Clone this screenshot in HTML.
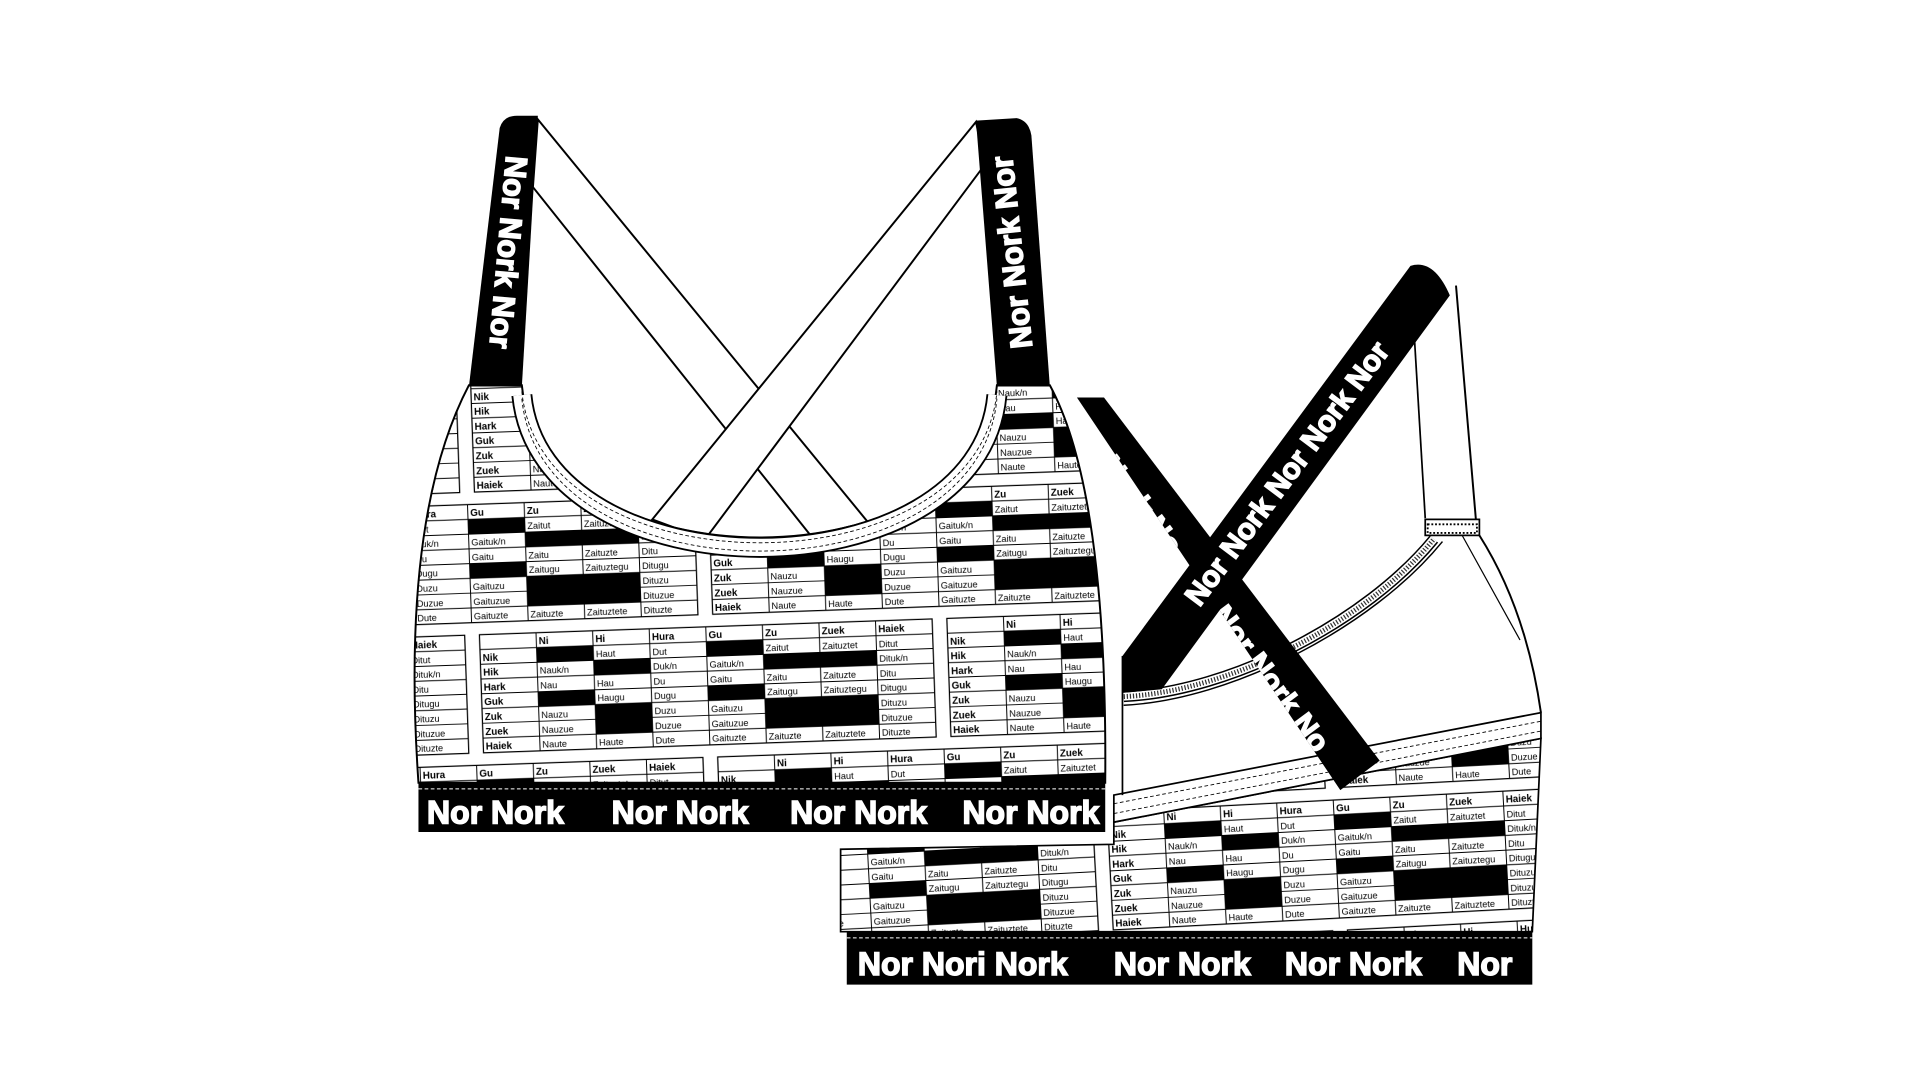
<!DOCTYPE html>
<html><head><meta charset="utf-8"><style>html,body{margin:0;padding:0;background:#fff}svg{display:block}</style></head>
<body>
<svg width="1920" height="1080" viewBox="0 0 1560 877.5" xmlns="http://www.w3.org/2000/svg" font-family="Liberation Sans, sans-serif">
<defs>
<g id="tbl">
<rect x="0" y="0" width="368" height="96" fill="#fff" stroke="#000" stroke-width="1"/>
<g fill="#000">
<rect x="46" y="12" width="46" height="12"/><rect x="184" y="12" width="46" height="12"/>
<rect x="92" y="24" width="46" height="12"/><rect x="230" y="24" width="92" height="12"/>
<rect x="46" y="48" width="46" height="12"/><rect x="184" y="48" width="46" height="12"/>
<rect x="92" y="60" width="46" height="24"/><rect x="230" y="60" width="92" height="24"/>
</g>
<g stroke="#000" stroke-width="0.8">
<path d="M0 12H368M0 24H368M0 36H368M0 48H368M0 60H368M0 72H368M0 84H368M46 0V96M92 0V96M138 0V96M184 0V96M230 0V96M276 0V96M322 0V96"/>
</g>
<g font-size="8" font-weight="bold">
<text x="48" y="9.5">Ni</text><text x="94" y="9.5">Hi</text><text x="140" y="9.5">Hura</text><text x="186" y="9.5">Gu</text><text x="232" y="9.5">Zu</text><text x="278" y="9.5">Zuek</text><text x="324" y="9.5">Haiek</text>
<text x="2" y="21.5">Nik</text><text x="2" y="33.5">Hik</text><text x="2" y="45.5">Hark</text><text x="2" y="57.5">Guk</text><text x="2" y="69.5">Zuk</text><text x="2" y="81.5">Zuek</text><text x="2" y="93.5">Haiek</text>
</g>
<g font-size="7.5">
<text x="94" y="21.5">Haut</text><text x="140" y="21.5">Dut</text><text x="232" y="21.5">Zaitut</text><text x="278" y="21.5">Zaituztet</text><text x="324" y="21.5">Ditut</text>
<text x="48" y="33.5">Nauk/n</text><text x="140" y="33.5">Duk/n</text><text x="186" y="33.5">Gaituk/n</text><text x="324" y="33.5">Dituk/n</text>
<text x="48" y="45.5">Nau</text><text x="94" y="45.5">Hau</text><text x="140" y="45.5">Du</text><text x="186" y="45.5">Gaitu</text><text x="232" y="45.5">Zaitu</text><text x="278" y="45.5">Zaituzte</text><text x="324" y="45.5">Ditu</text>
<text x="94" y="57.5">Haugu</text><text x="140" y="57.5">Dugu</text><text x="232" y="57.5">Zaitugu</text><text x="278" y="57.5">Zaituztegu</text><text x="324" y="57.5">Ditugu</text>
<text x="48" y="69.5">Nauzu</text><text x="140" y="69.5">Duzu</text><text x="186" y="69.5">Gaituzu</text><text x="324" y="69.5">Dituzu</text>
<text x="48" y="81.5">Nauzue</text><text x="140" y="81.5">Duzue</text><text x="186" y="81.5">Gaituzue</text><text x="324" y="81.5">Dituzue</text>
<text x="48" y="93.5">Naute</text><text x="94" y="93.5">Haute</text><text x="140" y="93.5">Dute</text><text x="186" y="93.5">Gaituzte</text><text x="232" y="93.5">Zaituzte</text><text x="278" y="93.5">Zaituztete</text><text x="324" y="93.5">Dituzte</text>
</g>
</g>
<pattern id="pat" patternUnits="userSpaceOnUse" width="380" height="212" patternTransform="translate(378,300) rotate(-2)">
<use href="#tbl" x="4" y="4"/>
<use href="#tbl" x="-186" y="110"/>
<use href="#tbl" x="194" y="110"/>
</pattern>
<pattern id="pat2" patternUnits="userSpaceOnUse" width="380" height="212" patternTransform="translate(700,560) rotate(-3)">
<use href="#tbl" x="4" y="4"/>
<use href="#tbl" x="-186" y="110"/>
<use href="#tbl" x="194" y="110"/>
</pattern>
<clipPath id="s1c"><polygon points="1146,216 1178,240 944,560 912,563 912,533"/></clipPath>
<clipPath id="s2c"><polygon points="875,323 897,323 1121,618 1089,642"/></clipPath>
</defs>

<!-- FRONT cross straps -->
<polygon points="437,97 705,424 661,438 433,152" fill="#fff" stroke="#000" stroke-width="1.6"/>
<polygon points="793,99 800,134 573,438 530,422" fill="#fff" stroke="#000" stroke-width="1.6"/>

<!-- FRONT body -->
<path d="M381,313 L424,313 C440,478 795,478 810,313 L853,313 Q900,400 898,636 L340,636 Q325,420 381,313 Z" fill="url(#pat)" stroke="#000" stroke-width="1.6"/>
<!-- neckline binding -->
<path d="M424,321 C440,486 795,486 810,321" fill="none" stroke="#000" stroke-width="17"/>
<path d="M424,321 C440,486 795,486 810,321" fill="none" stroke="#fff" stroke-width="14"/>
<path d="M424,318 C440,482 795,482 810,318" fill="none" stroke="#000" stroke-width="0.7" stroke-dasharray="3,2"/>
<path d="M424,324 C440,489 795,489 810,324" fill="none" stroke="#000" stroke-width="0.7" stroke-dasharray="3,2"/>

<!-- front black straps -->
<path d="M381,314 L406,104 Q409,94 420,94 L437,94 L424,314 Z" fill="#000"/>
<path d="M810,314 L793,98 L826,96 Q836,98 838,110 L853,314 Z" fill="#000"/>
<g fill="#fff" stroke="#fff" stroke-width="1.2" font-size="25" font-weight="bold">
<text x="413" y="205" transform="rotate(95 413 205)" text-anchor="middle" dominant-baseline="central">Nor Nork Nor</text>
<text x="822" y="205" transform="rotate(-96 822 205)" text-anchor="middle" dominant-baseline="central">Nor Nork Nor</text>
</g>

<!-- front band -->
<rect x="340" y="636" width="558" height="40" fill="#000"/>
<line x1="340" y1="641" x2="898" y2="641" stroke="#fff" stroke-width="0.8" stroke-dasharray="3,2"/>
<g fill="#fff" stroke="#fff" stroke-width="1.2" font-size="26" font-weight="bold">
<text x="347" y="669">Nor Nork</text><text x="497" y="669">Nor Nork</text><text x="642" y="669">Nor Nork</text><text x="782" y="669">Nor Nork</text>
</g>

<!-- BACK lower patterned region -->
<polygon points="683,690 905,686 905,668 1252,600 1245,757 683,757" fill="url(#pat2)" stroke="#000" stroke-width="1.4"/>
<polygon points="905,646 1252,579 1252,600 905,668" fill="#fff" stroke="#000" stroke-width="1.4"/>
<line x1="905" y1="653" x2="1252" y2="586" stroke="#000" stroke-width="0.7" stroke-dasharray="3,2"/>
<line x1="905" y1="661" x2="1252" y2="594" stroke="#000" stroke-width="0.7" stroke-dasharray="3,2"/>

<!-- back cup lines -->
<path d="M912,533 L912,646" stroke="#000" stroke-width="1.4" fill="none"/>
<path d="M913,566 C1000,562 1110,505 1165,438" fill="none" stroke="#000" stroke-width="9"/>
<path d="M913,566 C1000,562 1110,505 1165,438" fill="none" stroke="#fff" stroke-width="6.5"/>
<path d="M913,566 C1000,562 1110,505 1165,438" fill="none" stroke="#000" stroke-width="4" stroke-dasharray="1,1.5" opacity="0.8"/>
<path d="M913,573 C1000,569 1115,510 1172,440" fill="none" stroke="#000" stroke-width="1.2"/>
<path d="M1183,232 L1200,432" stroke="#000" stroke-width="1.6"/>
<path d="M1149,271 L1158,421" stroke="#000" stroke-width="1.4"/>
<rect x="1158" y="422" width="44" height="13" fill="#fff" stroke="#000" stroke-width="1.4"/>
<rect x="1160" y="426" width="40" height="7" fill="none" stroke="#000" stroke-width="1.5" stroke-dasharray="1.5,1.5"/>
<path d="M1202,435 Q1240,495 1252,579" fill="none" stroke="#000" stroke-width="1.6"/>
<path d="M1188,435 L1235,520" fill="none" stroke="#000" stroke-width="1"/>

<!-- back straps -->
<polygon points="875,323 897,323 1121,618 1089,642" fill="#000"/>
<g clip-path="url(#s2c)" fill="#fff" stroke="#fff" stroke-width="1.2" font-size="24" font-weight="bold">
<text x="955" y="448" transform="rotate(53.3 955 448)" text-anchor="end" dominant-baseline="central">Nork No</text>
<text x="990" y="495" transform="rotate(53.3 990 495)" dominant-baseline="central">Nor Nork No</text>
</g>
<path d="M1146,216 Q1165,210 1178,240 L944,560 L912,563 L912,533 Z" fill="#000"/>
<g clip-path="url(#s1c)" fill="#fff" stroke="#fff" stroke-width="1.2" font-size="24" font-weight="bold">
<text x="1046" y="385" transform="rotate(-53.3 1046 385)" text-anchor="middle" dominant-baseline="central">Nor Nork  Nor Nork Nor</text>
</g>

<!-- back band -->
<rect x="688" y="757" width="557" height="43" fill="#000"/>
<line x1="688" y1="762" x2="1245" y2="762" stroke="#fff" stroke-width="0.8" stroke-dasharray="3,2"/>
<g fill="#fff" stroke="#fff" stroke-width="1.2" font-size="26" font-weight="bold">
<text x="697" y="792">Nor Nori Nork</text><text x="905" y="792">Nor Nork</text><text x="1044" y="792">Nor Nork</text><text x="1184" y="792">Nor</text>
</g>
</svg>
</body></html>
